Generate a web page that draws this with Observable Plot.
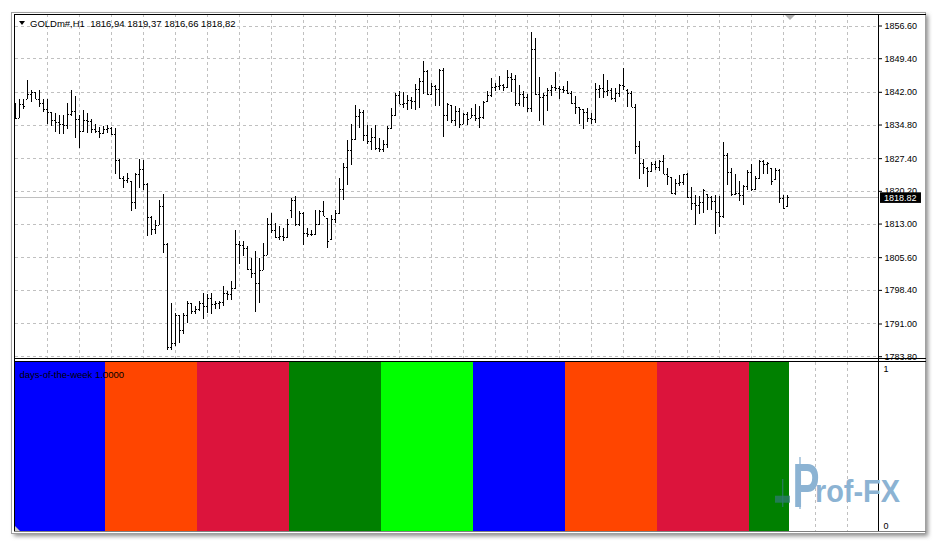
<!DOCTYPE html>
<html><head><meta charset="utf-8">
<script src="https://cdn.jsdelivr.net/npm/d3@7"></script>
<script src="https://cdn.jsdelivr.net/npm/@observablehq/plot@0.6"></script>
<style>
body{margin:0;background:#fff;}
#wrap{position:relative;width:937px;height:543px;overflow:hidden;font-family:"Liberation Sans",Arial,sans-serif;}
#wrap svg{position:absolute;left:0;top:0;}
</style></head><body><div id="wrap"></div>
<script>
// ---- data ----
const symbol = "GOLDm#,H1";
const lastQuote = ["1816,94", "1819,37", "1816,66", "1818,82"];
const priceLabels = ["1783.80","1791.00","1798.40","1805.60","1813.00","1820.20","1827.40","1834.80","1842.00","1849.40","1856.60"];
const opens = [1838.11,1836.28,1839.30,1840.46,1841.59,1842.02,1840.46,1839.58,1838.28,1837.54,
1835.69,1835.40,1835.00,1834.59,1837.01,1837.73,1835.91,1833.33,1835.69,1835.47,
1833.88,1833.33,1832.98,1833.88,1834.10,1832.61,1827.10,1823.10,1822.65,1822.30,
1817.70,1823.80,1825.06,1821.74,1814.51,1811.87,1812.79,1816.97,1808.39,1785.87,
1786.77,1792.77,1789.54,1792.77,1795.41,1793.73,1794.20,1795.41,1794.81,1796.67,
1795.19,1795.41,1795.70,1797.76,1797.39,1798.88,1808.39,1808.17,1807.66,1802.89,
1802.17,1799.98,1802.86,1806.18,1813.01,1811.69,1809.99,1810.20,1809.99,1816.08,
1818.29,1812.95,1815.37,1810.97,1810.75,1810.61,1812.95,1815.72,1814.20,1809.50,
1813.90,1815.37,1820.67,1825.43,1829.30,1831.72,1836.57,1837.56,1832.50,1831.07,
1831.99,1829.68,1829.52,1830.56,1833.93,1836.79,1841.41,1839.40,1839.58,1840.11,
1839.90,1842.73,1844.34,1846.56,1841.59,1843.24,1842.73,1846.91,1836.86,1839.00,
1835.69,1837.73,1834.96,1837.16,1836.30,1836.86,1836.13,1836.42,1839.90,1841.41,
1843.04,1843.24,1843.46,1843.04,1845.24,1844.93,1839.58,1841.59,1840.84,1838.33,
1851.38,1841.50,1840.90,1841.20,1842.38,1843.13,1842.95,1842.58,1842.30,1841.85,
1839.45,1838.55,1838.20,1837.45,1836.20,1835.98,1842.58,1842.80,1842.23,1842.36,
1840.60,1841.85,1843.55,1842.50,1841.85,1838.60,1830.12,1826.44,1825.30,1824.47,
1826.22,1825.40,1826.72,1823.95,1823.20,1819.77,1821.96,1822.18,1823.90,1818.80,
1817.56,1817.04,1817.79,1819.50,1818.80,1818.07,1815.59,1814.62,1828.20,1824.39,
1819.55,1819.77,1819.39,1821.23,1824.39,1820.71,1823.08,1826.88,1826.15,1825.20,
1822.70,1824.89,1818.67,1816.94];
const highs = [1839.58,1840.46,1840.46,1844.71,1842.38,1842.07,1842.51,1840.46,1840.31,1837.60,
1837.38,1836.79,1836.79,1839.58,1842.38,1841.19,1836.79,1837.95,1837.38,1835.91,
1834.81,1834.32,1834.45,1834.59,1834.32,1834.10,1827.26,1823.43,1824.02,1822.33,
1824.17,1827.26,1827.10,1822.00,1814.64,1813.76,1818.29,1819.61,1808.76,1795.56,
1793.36,1792.90,1793.36,1795.92,1795.56,1794.81,1795.92,1797.76,1797.39,1797.76,
1795.92,1795.92,1799.26,1798.16,1800.36,1811.69,1809.11,1809.11,1808.01,1805.46,
1806.92,1805.46,1808.76,1814.26,1815.37,1813.16,1812.41,1812.07,1813.90,1818.67,
1819.02,1815.72,1815.50,1812.07,1811.69,1816.09,1816.09,1817.91,1814.30,1814.99,
1816.09,1823.10,1826.40,1831.50,1834.81,1839.06,1838.11,1837.89,1834.59,1834.10,
1834.59,1831.88,1831.50,1834.37,1838.48,1841.78,1842.29,1842.01,1841.26,1840.84,
1843.77,1845.09,1848.74,1846.91,1843.99,1843.61,1847.13,1847.28,1839.58,1839.10,
1838.84,1838.48,1837.38,1837.60,1838.48,1839.36,1838.84,1839.94,1842.29,1845.09,
1843.99,1845.45,1843.77,1846.91,1846.18,1845.81,1843.46,1842.29,1841.48,1855.27,
1853.80,1845.33,1841.85,1842.82,1843.55,1846.26,1843.33,1843.33,1844.43,1842.25,
1841.15,1838.70,1838.30,1838.42,1837.23,1843.84,1843.55,1845.89,1844.57,1842.95,
1842.82,1843.70,1847.35,1842.58,1842.25,1839.28,1831.22,1827.17,1825.40,1826.66,
1826.72,1827.10,1828.05,1825.27,1823.30,1822.70,1823.65,1823.96,1824.17,1821.00,
1819.39,1819.02,1820.71,1819.60,1819.02,1819.24,1819.02,1831.03,1828.59,1825.27,
1823.80,1822.33,1821.59,1824.68,1826.16,1823.43,1827.10,1827.10,1826.59,1825.30,
1825.27,1825.12,1819.24,1819.37];
const lows = [1836.06,1836.28,1838.26,1840.46,1839.74,1840.31,1838.55,1837.54,1834.81,1834.45,
1833.13,1832.61,1832.61,1833.71,1836.66,1831.88,1829.68,1833.20,1832.98,1832.98,
1832.98,1831.88,1832.61,1832.98,1832.39,1823.80,1822.70,1820.87,1821.99,1815.72,
1816.25,1820.87,1820.42,1810.24,1810.39,1810.61,1812.60,1806.56,1785.27,1785.12,
1786.01,1786.77,1788.58,1791.16,1792.99,1792.99,1793.73,1791.89,1793.36,1792.99,
1794.09,1794.09,1794.81,1796.28,1796.28,1798.49,1803.99,1805.81,1802.80,1801.06,
1793.49,1795.41,1802.70,1806.00,1810.97,1809.86,1809.49,1809.27,1809.80,1814.26,
1812.41,1812.41,1808.24,1809.99,1810.24,1810.50,1812.79,1814.62,1807.66,1809.40,
1813.16,1815.20,1818.29,1821.45,1826.00,1831.50,1833.93,1831.07,1830.62,1829.30,
1829.30,1828.71,1828.80,1829.74,1833.80,1836.66,1839.30,1838.48,1837.89,1838.11,
1837.89,1838.48,1841.59,1841.26,1841.41,1838.84,1838.84,1832.03,1835.56,1835.18,
1834.45,1834.08,1834.81,1834.66,1836.20,1835.54,1834.08,1835.91,1839.80,1840.84,
1842.14,1842.51,1842.14,1842.91,1842.00,1838.84,1838.84,1838.62,1837.45,1837.45,
1841.40,1835.47,1834.76,1837.67,1841.13,1842.25,1840.38,1841.85,1841.48,1839.40,
1837.07,1834.87,1833.79,1835.25,1834.87,1835.03,1840.60,1840.60,1841.13,1840.16,
1839.65,1840.75,1842.38,1838.70,1838.55,1828.27,1822.76,1823.87,1821.09,1824.24,
1824.89,1824.52,1823.80,1821.59,1819.40,1819.24,1821.23,1821.45,1818.67,1816.09,
1812.79,1815.14,1815.37,1816.09,1816.09,1810.61,1812.19,1814.26,1821.59,1819.02,
1819.39,1818.07,1817.19,1820.49,1820.12,1820.49,1822.70,1823.80,1823.95,1821.59,
1822.60,1817.56,1816.31,1816.66];
const closes = [1836.28,1839.30,1838.77,1841.59,1842.02,1840.46,1839.58,1838.28,1837.54,1835.69,
1835.40,1835.00,1834.59,1837.01,1837.73,1835.91,1833.33,1835.69,1835.47,1833.88,
1833.33,1832.98,1833.88,1834.10,1832.61,1827.10,1823.10,1822.65,1823.10,1817.70,
1823.80,1825.06,1821.74,1814.51,1811.87,1812.79,1816.97,1808.39,1785.87,1786.77,
1792.77,1789.54,1792.77,1795.41,1793.73,1794.20,1795.41,1794.81,1796.67,1795.19,
1795.41,1795.70,1797.76,1797.39,1798.88,1808.39,1808.17,1807.66,1802.89,1802.17,
1799.98,1802.86,1806.18,1813.01,1811.69,1809.99,1810.20,1809.99,1812.95,1818.29,
1812.95,1815.37,1810.97,1810.75,1810.61,1812.95,1815.72,1814.77,1809.27,1813.90,
1815.37,1820.67,1825.43,1829.30,1831.72,1836.57,1837.56,1832.50,1831.07,1831.99,
1829.68,1829.52,1830.56,1833.93,1836.79,1841.41,1839.40,1839.58,1840.11,1839.90,
1842.73,1844.34,1846.56,1841.59,1843.24,1842.73,1846.91,1836.86,1839.36,1835.69,
1837.73,1834.96,1837.16,1835.91,1836.86,1836.13,1836.42,1839.83,1841.41,1843.04,
1843.24,1843.46,1843.04,1845.24,1844.93,1839.58,1841.59,1840.84,1838.33,1851.38,
1841.50,1840.90,1841.20,1842.38,1843.13,1842.95,1842.58,1842.30,1841.85,1839.45,
1838.55,1838.20,1837.45,1836.20,1835.98,1842.58,1842.80,1842.23,1842.36,1840.60,
1841.85,1843.55,1843.33,1841.85,1838.60,1830.12,1826.44,1825.49,1824.47,1826.22,
1825.40,1826.72,1823.95,1823.43,1819.77,1821.96,1822.18,1823.90,1818.80,1817.56,
1817.04,1817.79,1820.49,1818.80,1818.07,1815.59,1814.62,1828.20,1824.39,1819.55,
1819.77,1819.39,1821.23,1824.39,1820.71,1823.08,1826.88,1826.15,1826.30,1822.33,
1824.89,1818.67,1816.53,1818.82];
const dayNames = ["Monday","Tuesday","Wednesday","Thursday","Friday","Monday","Tuesday","Wednesday","Thursday"];
const dayBarCounts = [23,23,23,23,23,23,23,23,10];
const dayColors = {Monday:"#0000FF", Tuesday:"#FF4500", Wednesday:"#DC143C", Thursday:"#008000", Friday:"#00FF00"};
const indicatorName = "days-of-the-week";
const indicatorValue = 1;
const indicatorTicks = [0, 1];

// ---- build ----
const bars = opens.map((o, i) => ({i, open: o, high: highs[i], low: lows[i], close: closes[i]}));
const last = bars[bars.length - 1];
const priceTicks = priceLabels.map(Number);
let s = 0;
const days = dayNames.map((name, k) => { const d = {day: name, start: s, end: s + dayBarCounts[k] - 1}; s += dayBarCounts[k]; return d; });
const gridBars = d3.range(8, 209, 8);
const xDomain = [0, 215.75];
const font = '"Liberation Sans", Arial, sans-serif';
const grid = {stroke: "#c0c0c0", strokeDasharray: "3,3", shapeRendering: "crispEdges"};

const wrap = document.getElementById("wrap");
const NS = "http://www.w3.org/2000/svg";
function el(parent, tag, attrs, text) {
  const e = document.createElementNS(NS, tag);
  for (const k in attrs) e.setAttribute(k, attrs[k]);
  if (text != null) e.textContent = text;
  parent.appendChild(e); return e;
}

// background window
const bg = el(wrap, "svg", {width: 937, height: 543});
const defs = el(bg, "defs", {});
const f = el(defs, "filter", {id: "sh", x: "-5%", y: "-5%", width: "110%", height: "110%"});
el(f, "feGaussianBlur", {stdDeviation: 2});
el(bg, "rect", {x: 14, y: 15, width: 914, height: 521, fill: "#8a8a8a", filter: "url(#sh)"});
el(bg, "rect", {x: 11.5, y: 12.5, width: 914, height: 521, fill: "#fff", stroke: "#a0a0a0"});

const main = Plot.plot({
  width: 937, height: 543,
  marginLeft: 15, marginRight: 59, marginTop: 14, marginBottom: 185,
  x: {domain: xDomain, axis: null},
  y: {domain: [1783.8, 1856.6], range: [356.2, 25.5], axis: null},
  style: {background: "none", fontFamily: font, fontSize: "9px", color: "#000", overflow: "visible"},
  marks: [
    Plot.ruleX(gridBars, grid),
    Plot.ruleY(priceTicks, grid),
    Plot.ruleY([last.close], {stroke: "#c0c0c0", shapeRendering: "crispEdges"}),
    Plot.ruleX(bars, {x: "i", y1: "low", y2: "high", stroke: "#000", strokeWidth: 1, shapeRendering: "crispEdges"}),
    Plot.ruleY(bars, {y: "open", x1: d => d.i - 0.375, x2: d => d.i - 0.125, stroke: "#000", shapeRendering: "crispEdges"}),
    Plot.ruleY(bars, {y: "close", x1: d => d.i + 0.125, x2: d => d.i + 0.375, stroke: "#000", shapeRendering: "crispEdges"}),
    Plot.axisY({anchor: "right", ticks: priceTicks, tickFormat: d => d.toFixed(2), tickSize: 3, tickPadding: 3, fill: "#000", stroke: "#000"})
  ]
});
wrap.appendChild(main);

const lower = Plot.plot({
  width: 937, height: 543,
  marginLeft: 15, marginRight: 59, marginTop: 362, marginBottom: 11,
  x: {domain: xDomain, axis: null},
  y: {domain: [0, 1], axis: null},
  color: {type: "identity"},
  style: {background: "none", fontFamily: font, fontSize: "9px", color: "#000", overflow: "visible"},
  marks: [
    Plot.ruleX(gridBars, grid),
    Plot.rect(days, {x1: d => d.start - 0.5, x2: d => d.end + 0.5, y1: 0, y2: indicatorValue, fill: d => dayColors[d.day], clip: true, shapeRendering: "crispEdges"}),
    Plot.axisY({anchor: "right", ticks: [indicatorTicks[1]], tickFormat: d => String(d), tickSize: 0, tickPadding: 5, dy: 7, fill: "#000"}),
    Plot.axisY({anchor: "right", ticks: [indicatorTicks[0]], tickFormat: d => String(d), tickSize: 0, tickPadding: 5, dy: -6, fill: "#000"}),
    Plot.text([`${indicatorName} ${indicatorValue.toFixed(4)}`], {frameAnchor: "top-left", dx: 4, dy: 9, textAnchor: "start", fontSize: 9.5, fill: "#000"})
  ]
});
wrap.appendChild(lower);

// overlay: frames, header, current price label, watermark
const ov = el(wrap, "svg", {width: 937, height: 543});
const yMain = main.scale("y");
const yPix = (yMain.apply ? yMain.apply(last.close) : d3.scaleLinear(yMain.domain, yMain.range)(last.close)) + 0.5;
const line = (x1, y1, x2, y2, c) => el(ov, "line", {x1, y1, x2, y2, stroke: c, "stroke-width": 1, "shape-rendering": "crispEdges"});
line(14.5, 14, 14.5, 532, "#000");
line(14, 14.5, 926, 14.5, "#000");
line(14, 358.5, 926, 358.5, "#000");
line(14, 361.5, 926, 361.5, "#000");
line(878.5, 14, 878.5, 532, "#000");
line(14, 531.5, 926, 531.5, "#808080");
// shift marker & corner marker
el(ov, "polygon", {points: "785,15 795,15 790,20", fill: "#b0b0b0"});
el(ov, "polygon", {points: "15,526 15,531 20,531", fill: "#c8c8c8"});
// header
el(ov, "polygon", {points: "19,21 25,21 22,25", fill: "#000"});
el(ov, "text", {x: 30, y: 26.5, "font-size": 9.5, "font-family": font, fill: "#000", "xml:space": "preserve", style: "white-space:pre"},
   `${symbol}  ${lastQuote.join(" ")}`);
// current price label
el(ov, "rect", {x: 880, y: yPix - 5.3, width: 41, height: 10.6, fill: "#000"});
el(ov, "text", {x: 884, y: yPix + 3.2, "font-size": 9, "font-family": font, fill: "#fff"}, last.close.toFixed(2));
// watermark
el(ov, "line", {x1: 782.7, y1: 479, x2: 782.7, y2: 507, stroke: "#2f7a70", "stroke-opacity": 0.8, "stroke-width": 1.3});
el(ov, "rect", {x: 775, y: 495.7, width: 15, height: 7, fill: "#2f7a70", "fill-opacity": 0.75});
el(ov, "line", {x1: 800, y1: 457, x2: 800, y2: 509, stroke: "#8cb3d3", "stroke-width": 1.3});
el(ov, "text", {x: 792.5, y: 506.7, "font-size": 63, "font-weight": "bold", "font-family": font, fill: "#8cb3d3", textLength: 27, lengthAdjust: "spacingAndGlyphs"}, "P");
el(ov, "text", {x: 815, y: 502, "font-size": 30.5, "font-weight": "bold", "font-family": font, fill: "#8cb3d3", textLength: 85, lengthAdjust: "spacingAndGlyphs"}, "rof-FX");
</script></body></html>
